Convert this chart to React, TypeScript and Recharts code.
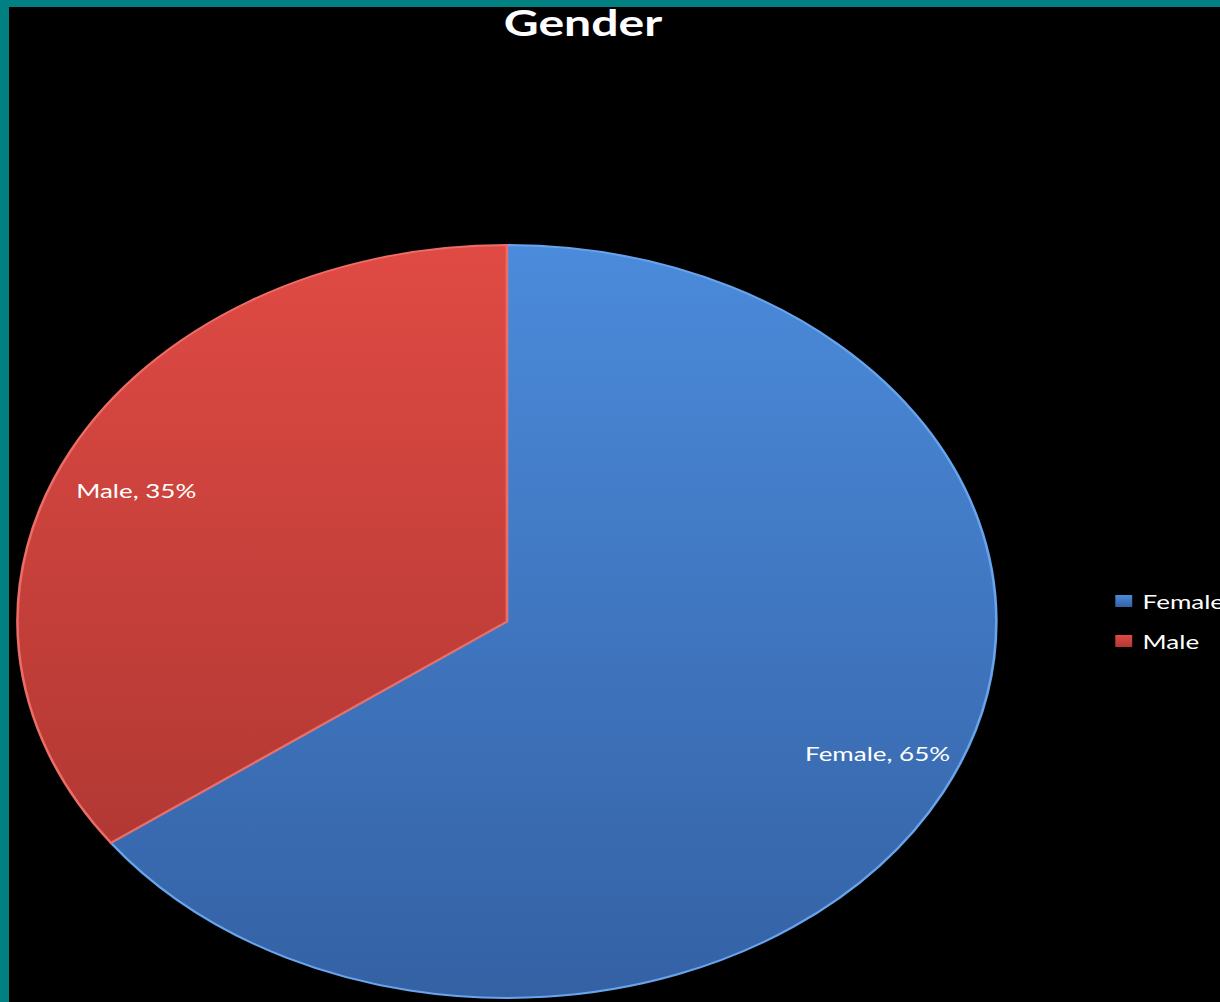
import { PieChart, Pie, Cell, Legend } from 'recharts'

const title = 'Gender'
const categories = ['Female', 'Male']
const shares = [65, 35]

const topColors = ['#4b8bdb', '#e04a44']
const bottomColors = ['#3461a4', '#b23833']
const rimColors = ['#68a4ec', '#ec6c66']

const data = categories.map((name, i) => ({ name, value: shares[i] }))

// the reference picture is stretched sideways, so the chart is drawn round and widened
const SX = 1.3
const RADIAN = Math.PI / 180
const FONT = 'Lato, "Open Sans", sans-serif'

function renderLabel(props: any) {
  const { cx, cy, midAngle, outerRadius, name, percent } = props
  const x = cx + outerRadius * 0.85 * Math.cos(-midAngle * RADIAN)
  const y = cy + outerRadius * 0.77 * Math.sin(-midAngle * RADIAN)
  return (
    <text x={x} y={y} fill="#ffffff" textAnchor="middle" dominantBaseline="central" fontSize={20} fontFamily={FONT}>
      {`${name}, ${Math.round(percent * 100)}%`}
    </text>
  )
}

function renderLegend(props: any) {
  const payload = props.payload || []
  return (
    <div>
      {payload.map((entry: any) => {
        const i = categories.indexOf(entry.value)
        return (
          <div key={entry.value} style={{ display: 'flex', alignItems: 'center', height: 40 }}>
            <span
              style={{
                display: 'inline-block',
                width: 13,
                height: 12,
                marginRight: 8,
                background: `linear-gradient(${topColors[i]}, ${bottomColors[i]})`,
              }}
            />
            <span style={{ color: '#ffffff', fontSize: 20, fontFamily: FONT, lineHeight: '20px', whiteSpace: 'nowrap' }}>
              {entry.value}
            </span>
          </div>
        )
      })}
    </div>
  )
}

export default function App() {
  return (
    <div style={{ position: 'fixed', left: 0, top: 0, width: 1220, height: 1002, background: '#008080', overflow: 'hidden' }}>
      <div style={{ position: 'absolute', left: 9, top: 7, width: 1211, height: 995, background: '#000000', overflow: 'hidden' }}>
        <div style={{ width: 932, height: 995, transform: `scaleX(${SX})`, transformOrigin: '0 0' }}>
          <PieChart width={932} height={995} margin={{ top: 0, right: 0, bottom: 0, left: 0 }}>
            <defs>
              {categories.map((c, i) => (
                <linearGradient key={c} id={`grad-${i}`} x1="0" y1="0" x2="0" y2="1">
                  <stop offset="0%" stopColor={topColors[i]} />
                  <stop offset="100%" stopColor={bottomColors[i]} />
                </linearGradient>
              ))}
            </defs>
            <text x={441.5} y={29} fill="#ffffff" textAnchor="middle" fontSize={37} fontWeight={700} fontFamily={FONT}>
              {title}
            </text>
            <Pie
              data={data}
              dataKey="value"
              nameKey="name"
              cx={383}
              cy={614.5}
              outerRadius={376.5}
              startAngle={90}
              endAngle={-270}
              label={renderLabel}
              labelLine={false}
              isAnimationActive={false}
            >
              {data.map((d, i) => (
                <Cell key={d.name} fill={`url(#grad-${i})`} stroke={rimColors[i]} strokeWidth={2} />
              ))}
            </Pie>
            <Legend
              content={renderLegend}
              wrapperStyle={{ position: 'absolute', left: 851, top: 574, width: 'auto' }}
            />
          </PieChart>
        </div>
      </div>
    </div>
  )
}
